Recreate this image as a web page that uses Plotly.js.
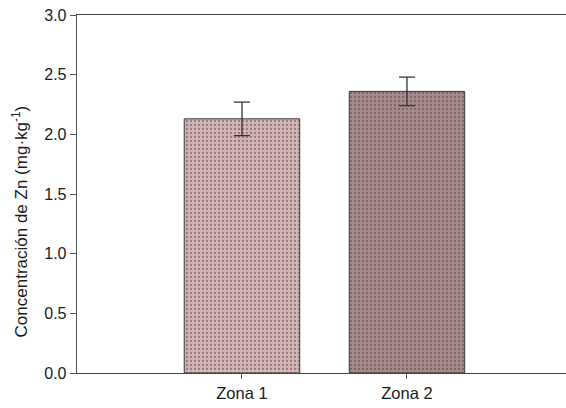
<!DOCTYPE html>
<html>
<head>
<meta charset="utf-8">
<script src="https://cdn.plot.ly/plotly-3.0.1.min.js"></script>
<style>html,body{margin:0;padding:0;background:#fff;}#chart{width:566px;height:408px;}</style>
</head>
<body>
<div id="chart"></div>
<script>
const categories = ["Zona 1", "Zona 2"];
const values = [2.13, 2.36];
const errors = [0.14, 0.12];
const yTitle = "Concentración de Zn (mg·kg<sup>-1</sup>)";
const fillColors = ["#d6b4b5", "#a98b8d"];
const dotColors = ["#8a6668", "#4a3536"];

const trace = {
  type: "bar",
  x: [0, 1],
  y: values,
  width: 0.7,
  marker: {
    color: fillColors,
    line: {color: "#3a3a3a", width: 1},
    pattern: {shape: ".", fgcolor: dotColors, bgcolor: fillColors, size: 4, solidity: 0.25, fillmode: "overlay"}
  },
  error_y: {type: "data", array: errors, visible: true, color: "#333", thickness: 1.3, width: 8},
  hoverinfo: "none"
};

const layout = {
  width: 566, height: 408,
  margin: {l: 77, r: 0, t: 15, b: 35},
  paper_bgcolor: "#fff", plot_bgcolor: "#fff",
  showlegend: false,
  font: {family: "Liberation Sans, Arial, sans-serif", size: 16, color: "#1a1a1a"},
  xaxis: {
    range: [-1, 1.964],
    tickmode: "array", tickvals: [0, 1], ticktext: categories,
    ticks: "outside", ticklen: 5, tickcolor: "#555",
    showline: true, linecolor: "#444", linewidth: 1.3, mirror: true,
    showgrid: false, zeroline: false,
    tickfont: {size: 16.5}
  },
  yaxis: {
    range: [0, 3], tickvals: [0, 0.5, 1, 1.5, 2, 2.5, 3],
    ticktext: ["0.0", "0.5", "1.0", "1.5", "2.0", "2.5", "3.0"],
    ticks: "outside", ticklen: 6, tickcolor: "#555",
    showline: true, linecolor: "#555", linewidth: 1.3,
    showgrid: false, zeroline: false,
    tickfont: {size: 16}
  },
  annotations: [{
    text: yTitle, textangle: -90, showarrow: false,
    xref: "paper", yref: "y", x: -0.1166, y: 1.27,
    xanchor: "center", yanchor: "middle",
    font: {size: 17, color: "#1a1a1a"}
  }]
};

Plotly.newPlot("chart", [trace], layout, {displayModeBar: false, staticPlot: true});
</script>
</body>
</html>
